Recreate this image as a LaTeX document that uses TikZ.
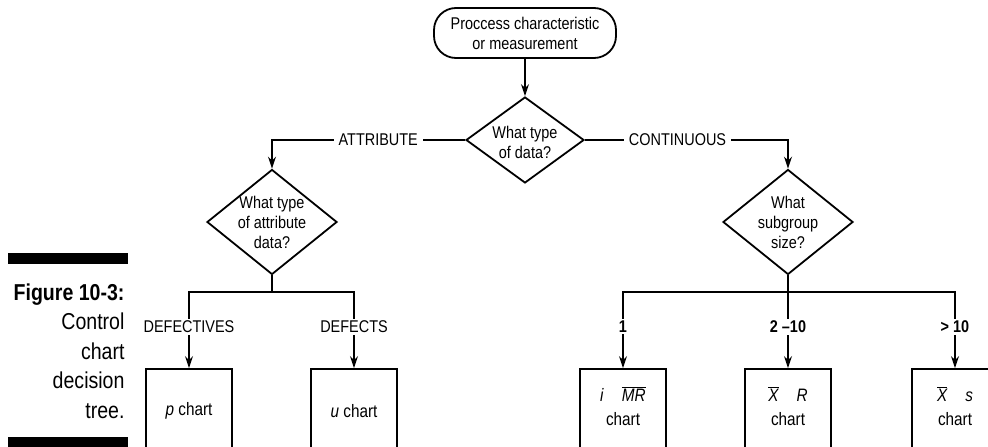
\documentclass[tikz,border=0pt]{standalone}
\usepackage{amsmath}
\usepackage{fontspec}
\setmainfont{Liberation Sans}[FakeStretch=0.85]
\usetikzlibrary{shapes,arrows.meta,positioning}

\begin{document}
\begin{tikzpicture}[
    x=1pt, y=-1pt,
    font=\fontsize{17}{20}\selectfont,
    start/.style={draw, line width=1.8pt, rounded corners=22pt, minimum width=182pt, minimum height=50pt, align=center, inner sep=0pt},
    decision/.style={draw, diamond, line width=1.8pt, inner sep=0pt},
    chartbox/.style={draw, line width=1.8pt, minimum width=86pt, minimum height=92pt, inner sep=0pt},
    boxtext/.style={align=center, font=\fontsize{18}{21}\selectfont},
    lbl/.style={fill=white, inner xsep=5pt, inner ysep=2pt},
    numlbl/.style={lbl, font=\fontsize{17}{20}\selectfont\bfseries},
    arrow/.style={-{Stealth[length=12pt,width=8pt]}, line width=1.8pt},
    line/.style={line width=1.8pt}
]
    \useasboundingbox (0,0) rectangle (988,447);
    \clip (0,0) rectangle (988,447);

    % caption at the left
    \fill (8,253) rectangle (128,264);
    \fill (8,437) rectangle (128,447);
    \node[anchor=east, align=right, font=\fontsize{23}{29.5}\selectfont] (caption) at (128,351) {\textbf{Figure 10-3:}\\Control\\chart\\decision\\tree.};

    \node[start] (proc) at (525,33) {Proccess characteristic\\or measurement};
    \node[decision, minimum width=118pt, minimum height=86pt, label={[align=center, yshift=-2pt]center:What type\\of data?}] (type) at (525,140) {};
    \node[decision, minimum width=130pt, minimum height=105pt, label={[align=center]center:What type\\of attribute\\data?}] (attr) at (272,222) {};
    \node[decision, minimum width=130pt, minimum height=105pt, label={[align=center]center:What\\subgroup\\size?}] (size) at (788,222) {};

    % chart boxes, cut off by the lower edge
    \node[chartbox, label={[boxtext, yshift=4pt]center:\textit{p} chart}] (pch) at (189,415) {};
    \node[chartbox, label={[boxtext, yshift=4pt]center:\textit{u} chart}] (uch) at (354,415) {};
    \node[chartbox, label={[boxtext, yshift=9pt]center:\textit{i}\quad$\overline{\textit{MR}}$\\[3pt]chart}] (imr) at (623,415) {};
    \node[chartbox, label={[boxtext, yshift=9pt]center:$\overline{\textit{X}}$\quad\textit{R}\\[3pt]chart}] (xr) at (788,415) {};
    \node[chartbox, label={[boxtext, yshift=9pt]center:$\overline{\textit{X}}$\quad\textit{s}\\[3pt]chart}] (xs) at (955,415) {};

    \coordinate (asplit) at (272,292);
    \coordinate (ssplit) at (788,292);

    \draw[arrow] (proc) -- (type);
    \draw[arrow] (type.west) -| node[lbl, pos=0.225] {ATTRIBUTE} (attr.north);
    \draw[arrow] (type.east) -| node[lbl, pos=0.228] {CONTINUOUS} (size.north);

    \draw[line] (attr.south) -- (asplit);
    \draw[arrow] (asplit) -| node[lbl, pos=0.727] {DEFECTIVES} (pch.north);
    \draw[arrow] (asplit) -| node[lbl, pos=0.727] {DEFECTS} (uch.north);

    \draw[line] (size.south) -- (ssplit);
    \draw[arrow] (ssplit) -| node[numlbl, pos=0.727] {1} (imr.north);
    \draw[arrow] (ssplit) -- node[numlbl, pos=0.455] {2 --10} (xr.north);
    \draw[arrow] (ssplit) -| node[numlbl, pos=0.727] {> 10} (xs.north);
\end{tikzpicture}
\end{document}
